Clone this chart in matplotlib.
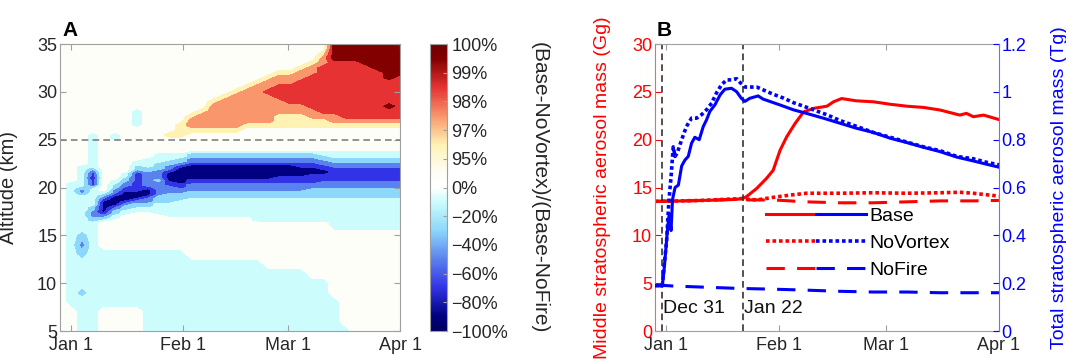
import numpy as np
import matplotlib
matplotlib.use("Agg")
import matplotlib.pyplot as plt
from matplotlib.colors import LinearSegmentedColormap, Normalize
from matplotlib.cm import ScalarMappable
from matplotlib.legend_handler import HandlerTuple

plt.rcParams['font.family'] = ['Liberation Sans', 'DejaVu Sans']

# ---------------- panel A data ----------------
# contour levels of (Base-NoVortex)/(Base-NoFire), in percent
pct_levels = [-100, -80, -60, -40, -20, 0, 95, 97, 98, 99, 100]
pct_labels = ['\u2212100%', '\u221280%', '\u221260%', '\u221240%', '\u221220%',
              '0%', '95%', '97%', '98%', '99%', '100%']
band_colors = ['#000080', '#3232E6', '#5A82EE', '#8CD7FA', '#CCFCFC',
               '#FEFEF8', '#FFF2B2', '#F9966B', '#E63232', '#820000']

# band index (0 = -100..-80 %, 9 = 99..100 %)
# one string per time column, bottom -> top:
#   5..15 km (1 km) | 16..24.75 km (0.25 km) | 25..35 km (0.5 km)
col_days = np.linspace(-3, 91, 32)
alt_rows = np.concatenate([np.arange(5, 16), np.arange(16, 25, 0.25),
                           np.arange(25, 35.01, 0.5)])
field_cols = [
    "55555555555 | 5555555555 5555555555 5555555555 555555 | 5555555 5555555 5555555",
    "55544444444 | 4444444444 444444444 5555555555 5555555 | 5555555 5555555 5555555",
    "44443444323 | 4444444444 444 3 22 3 444444444 5555555555 | 5555555 5555555 5555555",
    "44444444444 | 44 33 222 33 4444444 3 1 11 0 11 2 3 44 444444444 | 44 5555555555 555555555",
    "55544444455 | 55 4 3 2 1 00000 1 2 3 4 5555555555 5555555555 5 | 5555555 5555555 5555555",
    "55544444455 | 555 44 33 2 1 0000 1 22 33 44 5555555555 555555 | 44 5555555555 555555555",
    "55544444455 | 55555 44 33 2 1 0000 11 22 33 44 5555555555 555 | 5555555 5555555 5555555",
    "55544444455 | 555555 44 33 2 1 000 11111111 2 33 44 55555555 | 555 4444 5555555 5555555",
    "44444444455 | 555555 44 33 22 1 000 1 222222 33 4444 5555555 | 5555555 5555555 5555555",
    "44444444455 | 55555 44444 333 22222 2 3 2222 333 4444 55555 | 5555555 5555555 5555555",
    "44444444455 | 5555 444444 3333 222 11 0000 1 22 33 444 55555 | 5 6 5555555555 555555555",
    "44444444455 | 5555 4444444 333 22 11 0000000 1 2 33 44 55555 | 5 666 5555555555 5555555",
    "44444444555 | 5555 44444444 333 222 11 000000 1 22 33 4 5555 | 55 6 77 6 5555555555 55555",
    "44444444555 | 5555 44444444 333 222 11 000000 1 22 33 4 5555 | 55 6 777 6 5555555555 5555",
    "44444444555 | 5555 44444444 333 222 11 000000 1 22 33 4 5555 | 55 6 77777 6 5555555555 55",
    "44444444555 | 5555 44444444 333 222 11 000000 1 22 33 4 5555 | 55 6 777777 6 5555555555 5",
    "44444444555 | 5555 44444444 333 222 11 000000 1 22 33 4 5555 | 55 6 7777777 6 5555555555",
    "44444444555 | 5555 44444444 333 222 11 000000 1 22 33 4 5555 | 555 6 7777777 6 555555555",
    "44444444555 | 55 4444444444 333 222 11 000000 1 22 33 4 5555 | 555 6 77777777 6 55555555",
    "44444445555 | 55 4444444444 333 222 11 000000 1 22 33 4 5555 | 555 6 777777 8 77 6 5555555",
    "44444445555 | 55 4444444444 333 222 111 00000 1 22 33 4 5555 | 555 666 777 888 77 6 555555",
    "44444445555 | 55 4444444444 333 222 111 00000 1 22 33 4 5555 | 555 666 77 8888 77 6 555555",
    "44444445555 | 55 4444444444 333 222 111 0000 11 22 33 4 5555 | 555 666 77 88888 77 6 55555",
    "44444455555 | 55 4444444444 3333 22 1111 000 11 22 33 4 5555 | 555 66 77 8888888 77 6 5555",
    "44444455555 | 55 4444444444 3333 222 111 00 11 22 33 44 5555 | 555 66 7 8888888888 77 6 55",
    "44445555555 | 444444444444 3333 222 11111 1 22 33 444 5555 | 555 6 77 88888888888 9999",
    "45555555555 | 444444444444 3333 222 11111 1 22 33 444 5555 | 555 6 7 888888888888 9999",
    "55555555555 | 444444444444 3333 222 11111 1 22 33 444 5555 | 555 6 7 888888888888 9999",
    "55555555555 | 444444444444 3333 222 11111 1 22 33 444 5555 | 555 6 7 88888888888 99999",
    "55555555555 | 444444444444 3333 222 11111 1 22 33 444 5555 | 555 6 7 8888888888 999999",
    "55555555555 | 444444444444 3333 222 11111 1 22 33 444 5555 | 555 6 7 88 9 88888 99999999",
    "55555555555 | 444444444444 3333 222 11111 1 22 33 444 5555 | 555 6 7 888888888 9999999",
]

# ---------------- panel B data ----------------
month_days = [0, 31, 60, 91]
month_labels = ['Jan 1', 'Feb 1', 'Mar 1', 'Apr 1']
event_days = [-1, 21]
event_labels = ['Dec 31', 'Jan 22']

# total stratospheric aerosol mass (Tg)
base_blue_days = [-3, -1.0, -0.55, 0, 0.45, 0.9, 1.4, 1.8, 2.5, 3.4, 4.3, 5.2, 6.1, 7.0, 7.9,
                  9.1, 10.2, 11.1, 12.0, 13.4, 14.8, 16.1, 17.9, 19.3, 20.6, 21.6, 22.9, 25.2,
                  26.5, 28.0, 31.2, 34.8, 38.4, 43.0, 47.5, 52.0, 56.7, 61.3, 65.8, 70.4, 74.9,
                  79.5, 84.0, 87.7, 91]
base_blue = [0.19, 0.188, 0.248, 0.346, 0.43, 0.49, 0.42, 0.55, 0.60, 0.61, 0.69, 0.715, 0.73,
             0.785, 0.81, 0.80, 0.855, 0.883, 0.918, 0.946, 0.987, 1.011, 1.015, 1.001, 0.973,
             0.96, 0.973, 0.983, 0.97, 0.962, 0.945, 0.925, 0.91, 0.89, 0.869, 0.848, 0.83,
             0.806, 0.788, 0.768, 0.75, 0.727, 0.711, 0.697, 0.685]
novortex_blue_days = [-3, -1.0, -0.5, 0.2, 0.6, 0.9, 1.4, 2.0, 2.5, 3.1, 4.3, 5.6, 7.0, 8.4, 9.7,
                      11.1, 12.5, 13.8, 15.2, 16.6, 17.9, 19.3, 20.2, 21.6, 22.9, 24.8, 26.6, 29.3,
                      32.1, 34.8, 37.6, 40.3, 44.0, 47.6, 52.2, 56.7, 61.3, 65.8, 70.4, 74.9, 79.5,
                      84.0, 87.7, 91]
novortex_blue = [0.19, 0.19, 0.27, 0.38, 0.49, 0.56, 0.645, 0.77, 0.73, 0.745, 0.80, 0.855, 0.89,
                 0.89, 0.904, 0.925, 0.953, 0.995, 1.03, 1.05, 1.05, 1.055, 1.04, 1.02, 1.02, 1.02,
                 1.008, 0.99, 0.974, 0.955, 0.94, 0.925, 0.904, 0.88, 0.855, 0.83, 0.81, 0.79,
                 0.77, 0.754, 0.73, 0.72, 0.705, 0.695]
nofire_blue_days = [-3, 0, 2, 11, 20, 29, 38, 47.5, 56.6, 65.8, 74.9, 84, 91]
nofire_blue = [0.19, 0.19, 0.188, 0.183, 0.178, 0.175, 0.171, 0.166, 0.163, 0.163, 0.16, 0.16, 0.16]

# middle stratospheric aerosol mass (Gg)
base_red_days = [-3, 5, 10, 15, 19, 21, 22, 24.8, 27.5, 29.3, 31.2, 33, 35.3, 37.6, 40.3, 44,
                 45.8, 48, 52, 56.7, 61.3, 65.8, 70.4, 74.9, 80.3, 82.1, 84, 86.8, 91]
base_red = [13.55, 13.6, 13.65, 13.7, 13.75, 13.85, 14.04, 14.9, 15.96, 16.8, 18.9, 20.3, 21.7,
            22.9, 23.27, 23.5, 23.96, 24.3, 24.06, 23.96, 23.7, 23.5, 23.37, 23.1, 22.57, 22.75,
            22.4, 22.57, 22.1]
novortex_red_days = [-3, 10, 21, 22, 24.8, 29.3, 33.8, 38.4, 47.5, 56.6, 65.8, 74.9, 80.3, 84,
                     88.6, 91]
novortex_red = [13.55, 13.65, 13.85, 13.8, 13.7, 13.97, 14.2, 14.4, 14.4, 14.45, 14.4, 14.45,
                14.5, 14.4, 14.2, 14.1]
nofire_red_days = [-3, 10, 21, 22, 29.3, 38.4, 47.5, 56.6, 65.8, 74.9, 84, 91]
nofire_red = [13.55, 13.65, 13.8, 13.7, 13.7, 13.5, 13.4, 13.4, 13.5, 13.6, 13.6, 13.65]

# ---------------- build the field ----------------
rows = []
for s in field_cols:
    parts = [p.replace(' ', '') for p in s.split('|')]
    assert [len(p) for p in parts] == [11, 36, 21], (s, [len(p) for p in parts])
    rows.append([int(ch) for ch in ''.join(parts)])
field = np.array(rows, dtype=float).T + 0.5   # shape (altitude, time)

fig = plt.figure(figsize=(10.66, 3.61), dpi=100)
tick_fs = 13
lab_fs = 14
gray = '#A0A0A0'
txt = '#262626'

# ---------------- panel A ----------------
axA = fig.add_axes([0.0563, 0.0831, 0.319, 0.795])
axA.contourf(col_days, alt_rows, field, levels=np.arange(11), colors=band_colors)
axA.axhline(25, color='#808080', lw=1.2, dashes=(4, 2.5))
axA.set_xlim(-3, 91)
axA.set_ylim(5, 35)
axA.set_xticks(month_days)
axA.set_xticklabels(month_labels)
axA.set_yticks(range(5, 36, 5))
axA.set_ylabel('Altitude (km)', fontsize=lab_fs + 0.5, color=txt)
axA.yaxis.set_label_coords(-0.125, 0.5)
axA.tick_params(direction='in', top=True, right=True, length=4, color=gray,
                labelsize=tick_fs, labelcolor=txt, pad=2)
axA.tick_params(axis='x', pad=4)
for sp in axA.spines.values():
    sp.set_color(gray)
    sp.set_linewidth(0.8)

cnodes = [(0.0, '#000060'), (0.05, band_colors[0]), (0.15, band_colors[1]),
          (0.25, band_colors[2]), (0.35, band_colors[3]), (0.45, band_colors[4]),
          (0.5, '#FFFFFF'), (0.55, band_colors[5]), (0.65, band_colors[6]),
          (0.75, band_colors[7]), (0.85, band_colors[8]), (0.95, band_colors[9]),
          (1.0, '#700000')]
smooth_cmap = LinearSegmentedColormap.from_list('fire_vortex', cnodes)
cax = fig.add_axes([0.4034, 0.0831, 0.016, 0.795])
cb = fig.colorbar(ScalarMappable(norm=Normalize(0, 10), cmap=smooth_cmap), cax=cax,
                  ticks=range(11))
cb.set_ticklabels(pct_labels)
cb.outline.set_edgecolor(gray)
cax.tick_params(direction='in', length=3, color=gray, labelsize=13, labelcolor=txt, pad=3)
fig.text(0.506, 0.48, '(Base-NoVortex)/(Base-NoFire)', rotation=270, ha='center',
         va='center', fontsize=15, color=txt)

fig.text(0.059, 0.915, 'A', fontsize=15, fontweight='bold', va='center')

# ---------------- panel B ----------------
axB = fig.add_axes([0.6144, 0.0831, 0.3227, 0.795])
axB2 = axB.twinx()
lw = 2.2
r_base, = axB.plot(base_red_days, base_red, color='red', lw=lw)
r_nv, = axB.plot(novortex_red_days, novortex_red, color='red', lw=2.6, dashes=(1, 0.8))
r_nf, = axB.plot(nofire_red_days, nofire_red, color='red', lw=lw, dashes=(6, 4))
b_base, = axB2.plot(base_blue_days, base_blue, color='blue', lw=lw)
b_nv, = axB2.plot(novortex_blue_days, novortex_blue, color='blue', lw=2.6, dashes=(1, 0.8))
b_nf, = axB2.plot(nofire_blue_days, nofire_blue, color='blue', lw=lw, dashes=(6, 4))

for d, lab in zip(event_days, event_labels):
    axB.axvline(d, color='#333333', lw=1.2, dashes=(4, 2.5))
    axB.text(d + 0.3, 2.3, lab, fontsize=14, color='#111111', va='center', ha='left')

axB.set_xlim(-3, 91)
axB.set_ylim(0, 30)
axB2.set_ylim(0, 1.2)
axB.set_xticks(month_days)
axB.set_xticklabels(month_labels)
axB.set_yticks(range(0, 31, 5))
axB2.set_yticks([0, 0.2, 0.4, 0.6, 0.8, 1.0, 1.2])
axB2.set_yticklabels(['0', '0.2', '0.4', '0.6', '0.8', '1', '1.2'])
axB.tick_params(axis='x', direction='in', top=True, length=4, color=gray,
                labelsize=tick_fs, labelcolor=txt, pad=4)
axB.tick_params(axis='y', direction='in', length=4, color='red', labelsize=tick_fs,
                labelcolor='red', pad=2)
axB2.tick_params(axis='y', direction='in', length=4, color='blue', labelsize=tick_fs,
                 labelcolor='blue', pad=2)
axB.set_ylabel('Middle stratospheric aerosol mass (Gg)', color='red', fontsize=lab_fs)
axB.yaxis.set_label_coords(-0.128, 0.5)
axB2.set_ylabel('Total stratospheric aerosol mass (Tg)', color='blue', fontsize=lab_fs,
                rotation=90)
axB2.yaxis.set_label_coords(1.15, 0.5)

axB.spines['left'].set_color('#FF6060')
axB.spines['top'].set_color(gray)
axB.spines['bottom'].set_color(gray)
axB.spines['right'].set_visible(False)
axB2.spines['right'].set_color('#7070FF')
axB2.spines['left'].set_visible(False)
axB2.spines['top'].set_visible(False)
axB2.spines['bottom'].set_visible(False)

axB2.legend([(r_base, b_base), (r_nv, b_nv), (r_nf, b_nf)], ['Base', 'NoVortex', 'NoFire'],
            handler_map={tuple: HandlerTuple(ndivide=None, pad=0)}, handlelength=5.15,
            frameon=False, loc='upper left', bbox_to_anchor=(0.323, 0.432), fontsize=14,
            labelspacing=0.5, handletextpad=0.15, borderaxespad=0, borderpad=0)

fig.text(0.616, 0.915, 'B', fontsize=15, fontweight='bold', va='center')

fig.savefig('out.png', dpi=100)
